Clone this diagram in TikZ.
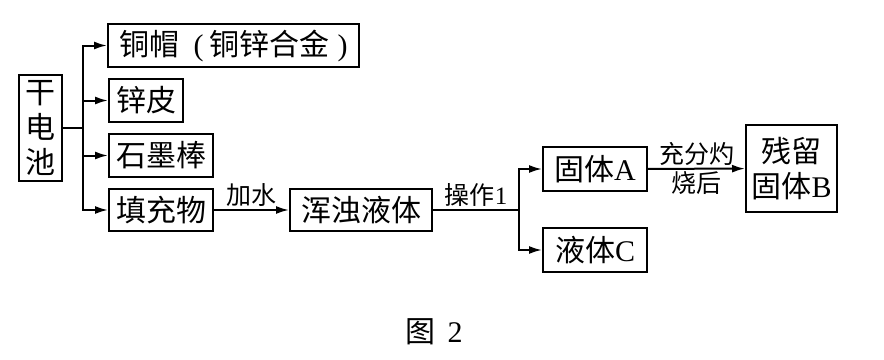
\documentclass[tikz,border=0pt]{standalone}
\usepackage{fontspec}
\setmainfont{Liberation Serif}
\newfontfamily\cjk{Noto Sans CJK SC}
\newcommand\lat[1]{{\rmfamily #1}}
\usetikzlibrary{arrows.meta,positioning}
\tikzset{
  box/.style={draw=black,line width=2pt,inner sep=0pt,align=center,
              minimum height=43pt,font=\fontsize{30}{35}\selectfont\cjk},
  lbl/.style={inner sep=0pt,font=\fontsize{25}{29}\selectfont\cjk},
  flow/.style={-{Latex[length=13pt,width=8pt]},line width=2pt,draw=black},
  link/.style={line width=2pt,draw=black}
}

\begin{document}
\begin{tikzpicture}[x=1pt,y=-1pt]
  \useasboundingbox[fill=white] (0,0) rectangle (884,359);
  % battery and its parts
  \node[box,minimum width=43pt,minimum height=106pt] (cell) at (40.5,128) {干\\电\\池};
  \node[box,minimum width=251pt] (cap) at (233.5,45.5)
    {铜帽\hspace{14pt}\lat{(}\hspace{6pt}铜锌合金\hspace{8pt}\lat{)}};
  \node[box,minimum width=74pt] (shell) at (146,100.5) {锌皮};
  \node[box,minimum width=104pt] (rod) at (161,155.5) {石墨棒};
  \node[box,minimum width=104pt,minimum height=42pt] (filler) at (161,210) {填充物};
  \coordinate (split) at (83,128);
  \draw[link] (cell.east) -- (split);
  \foreach \n in {cap,shell,rod,filler}
    \draw[flow] (split) |- (\n.west);

  % separation
  \node[box,minimum width=142pt,minimum height=42pt] (mud) at (361,210) {浑浊液体};
  \draw[flow] (filler) -- node[lbl,above=2pt] {加水} (mud);
  \node[box,minimum width=104pt,minimum height=44pt] (solidA) at (595,169) {固体\lat{A}};
  \node[box,minimum width=104pt,minimum height=44pt] (liquidC) at (595,250) {液体\lat{C}};
  \coordinate (fork) at (519,210);
  \draw[link] (mud.east) -- node[lbl,above=2pt] {操作\lat{1}} (fork);
  \foreach \n in {solidA,liquidC}
    \draw[flow] (fork) |- (\n.west);

  % burning
  \node[box,minimum width=91pt,minimum height=87pt] (residue) at (791.5,168.5) {残留\\固体\lat{B}};
  \draw[flow] (solidA) -- node[lbl,above=2pt] {充分灼} node[lbl,below=2pt] {烧后} (residue);

  \node[lbl,font=\fontsize{30}{34}\selectfont\cjk] (caption) at (434,332) {图\hspace{12pt}\lat{2}};
\end{tikzpicture}
\end{document}
